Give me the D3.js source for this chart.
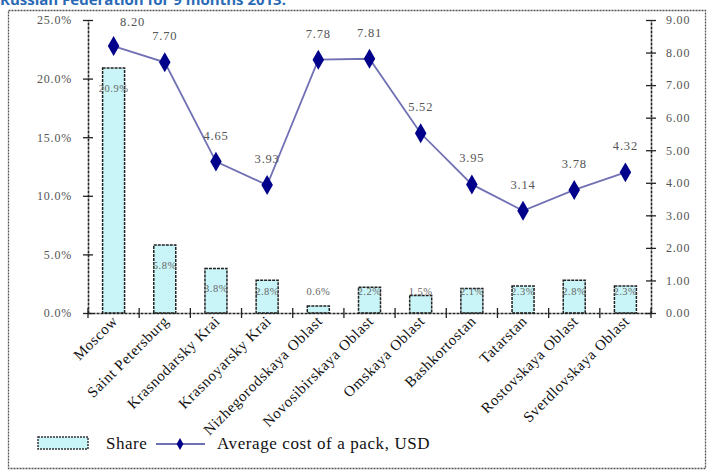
<!DOCTYPE html>
<html><head><meta charset="utf-8">
<script src="https://cdn.jsdelivr.net/npm/d3@7"></script>
<style>
body{margin:0;background:#fff;}
svg{display:block;}
</style></head>
<body>
<svg id="chart" width="713" height="475"></svg>
<script>
const categories = ["Moscow","Saint Petersburg","Krasnodarsky Krai","Krasnoyarsky Krai","Nizhegorodskaya Oblast","Novosibirskaya Oblast","Omskaya Oblast","Bashkortostan","Tatarstan","Rostovskaya Oblast","Sverdlovskaya Oblast"];
const shareValues = [20.9, 5.8, 3.8, 2.8, 0.6, 2.2, 1.5, 2.1, 2.3, 2.8, 2.3];
const costValues = [8.20, 7.70, 4.65, 3.93, 7.78, 7.81, 5.52, 3.95, 3.14, 3.78, 4.32];
const leftTicks = [0, 5, 10, 15, 20, 25];
const rightTicks = [0,1,2,3,4,5,6,7,8,9];
const seriesNames = ["Share", "Average cost of a pack, USD"];
const titleText = "Russian Federation for 9 months 2013.";

const svg = d3.select("#chart");
const serif = "'Liberation Serif', 'DejaVu Serif', serif";
const L = 88, R = 651, T = 20, B = 313;

// title (cut off at top, as in the reference)
svg.append("text").attr("x", 0).attr("y", 5).attr("font-family","'Open Sans', sans-serif")
  .attr("font-weight","bold").attr("font-size",15).attr("fill","#2a6ab5").text(titleText);

// border
svg.append("rect").attr("x",8.5).attr("y",10.5).attr("width",697).attr("height",458)
  .attr("fill","none").attr("stroke","#555").attr("stroke-width",1.3).attr("stroke-dasharray","2,1");

const x = d3.scaleBand().domain(categories).range([L, R]).paddingInner(0).paddingOuter(0);
const yL = d3.scaleLinear().domain([0, 25]).range([B, T]);
const yR = d3.scaleLinear().domain([0, 9]).range([B, T]);

const axisStroke = "#222";

// bars
const barW = 22;
svg.append("g").selectAll("rect").data(shareValues).join("rect")
  .attr("x", (d,i) => x(categories[i]) + x.bandwidth()/2 - barW/2)
  .attr("y", d => yL(d))
  .attr("width", barW)
  .attr("height", d => B - yL(d))
  .attr("fill", "#c9f5f8")
  .attr("stroke", "#222").attr("stroke-width", 1.5).attr("stroke-dasharray","3,1");

// bar labels
svg.append("g").selectAll("text").data(shareValues).join("text")
  .attr("x", (d,i) => x(categories[i]) + x.bandwidth()/2)
  .attr("y", d => Math.min(yL(d) + 24, B - 18))
  .attr("text-anchor","middle").attr("font-family", serif).attr("font-size", 10.5)
  .attr("letter-spacing", 0.5)
  .attr("fill","#666").text(d => d.toFixed(1) + "%");

// left axis
const axL = svg.append("g").attr("transform", `translate(${L},0)`)
  .call(d3.axisLeft(yL).tickValues(leftTicks).tickFormat(d => d.toFixed(1) + "%").tickSizeInner(5).tickSizeOuter(0).tickPadding(6));
axL.selectAll(".tick line").attr("x2", 5).attr("x1", -5).attr("stroke", axisStroke).attr("stroke-width",1.3);
axL.select(".domain").attr("stroke", axisStroke).attr("stroke-width",1.6).attr("stroke-dasharray","3,1");
axL.selectAll("text").attr("font-family", serif).attr("font-size", 12).attr("letter-spacing", 0.8)
  .attr("fill","#555").attr("x",-16);

// right axis
const axR = svg.append("g").attr("transform", `translate(${R},0)`)
  .call(d3.axisRight(yR).tickValues(rightTicks).tickFormat(d => d.toFixed(2)).tickSizeInner(5).tickSizeOuter(0).tickPadding(6));
axR.selectAll(".tick line").attr("x2", 5).attr("x1", -5).attr("stroke", axisStroke).attr("stroke-width",1.3);
axR.select(".domain").attr("stroke", axisStroke).attr("stroke-width",1.6).attr("stroke-dasharray","3,1");
axR.selectAll("text").attr("font-family", serif).attr("font-size", 12).attr("letter-spacing", 0.8)
  .attr("fill","#555").attr("x",15);

// bottom axis
const axB = svg.append("g").attr("transform", `translate(0,${B})`)
  .call(d3.axisBottom(x).tickSize(0).tickFormat(""));
axB.select(".domain").attr("stroke", axisStroke).attr("stroke-width",1.6).attr("stroke-dasharray","3,1");
axB.selectAll(".tick").remove();
const bounds = categories.map(c => x(c)).concat([R]);
svg.append("g").selectAll("line").data(bounds).join("line")
  .attr("x1", d => d).attr("x2", d => d).attr("y1", B - 5).attr("y2", B + 5)
  .attr("stroke", axisStroke).attr("stroke-width", 1.3);

// category labels
svg.append("g").selectAll("text").data(categories).join("text")
  .attr("transform", d => `translate(${x(d) + x.bandwidth()/2 + 5},${B + 9}) rotate(-45)`)
  .attr("text-anchor","end").attr("font-family", serif).attr("font-size", 15)
  .attr("letter-spacing", 0.6)
  .attr("fill","#111").text(d => d);

// line
const px = (d,i) => x(categories[i]) + x.bandwidth()/2;
const line = d3.line().x(px).y(d => yR(d));
svg.append("path").datum(costValues).attr("d", line)
  .attr("fill","none").attr("stroke","#7070b4").attr("stroke-width",1.8);
const diamond = d3.symbol().type(d3.symbolDiamond).size(115);
svg.append("g").selectAll("path").data(costValues).join("path")
  .attr("d", diamond)
  .attr("transform", (d,i) => `translate(${px(d,i)},${yR(d)})`)
  .attr("fill","#00008b");

// line labels
svg.append("g").selectAll("text").data(costValues).join("text")
  .attr("x", (d,i) => px(d,i) + (i === 0 ? 19 : 0))
  .attr("y", (d,i) => yR(d) - (i === 0 ? 20 : 22))
  .attr("text-anchor","middle").attr("font-family", serif).attr("font-size", 12.5)
  .attr("letter-spacing", 0.8)
  .attr("fill","#555").text(d => d.toFixed(2));

// legend
const lg = svg.append("g");
lg.append("rect").attr("x",38).attr("y",437).attr("width",50).attr("height",12)
  .attr("fill","#c9f5f8").attr("stroke","#333").attr("stroke-width",1.5).attr("stroke-dasharray","2,1");
lg.append("text").attr("x",106).attr("y",449).attr("font-family",serif).attr("font-size",17)
  .attr("letter-spacing", 0.5)
  .attr("fill","#111").text(seriesNames[0]);
lg.append("line").attr("x1",156).attr("x2",205).attr("y1",444).attr("y2",444)
  .attr("stroke","#7070b4").attr("stroke-width",1.8);
lg.append("path").attr("d", d3.symbol().type(d3.symbolDiamond).size(40)).attr("transform","translate(180,444)").attr("fill","#00008b");
lg.append("text").attr("x",217).attr("y",449).attr("font-family",serif).attr("font-size",17)
  .attr("letter-spacing", 0.6)
  .attr("fill","#111").text(seriesNames[1]);
</script>
</body></html>
